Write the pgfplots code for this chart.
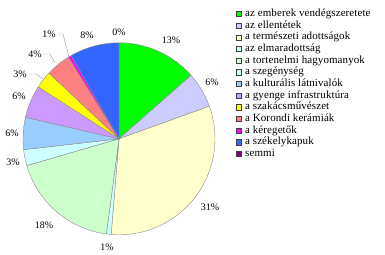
\documentclass[border=0pt]{standalone}
\usepackage{pgfplots}
\pgfplotsset{compat=1.18}
\usepackage{fontspec}
\setmainfont{Liberation Serif}
\definecolor{cA}{HTML}{00FF00}
\definecolor{cB}{HTML}{CCCCFF}
\definecolor{cC}{HTML}{FFFFCC}
\definecolor{cD}{HTML}{CCFFFF}
\definecolor{cE}{HTML}{CCFFCC}
\definecolor{cF}{HTML}{CCFFFF}
\definecolor{cG}{HTML}{99CCFF}
\definecolor{cH}{HTML}{CC99FF}
\definecolor{cI}{HTML}{FFFF00}
\definecolor{cJ}{HTML}{FF8080}
\definecolor{cK}{HTML}{FF00FF}
\definecolor{cL}{HTML}{3366FF}
\definecolor{cM}{HTML}{800080}
\begin{document}
\begin{tikzpicture}
\begin{axis}[
  width=385bp, height=255bp, scale only axis,
  xmin=0, xmax=385, ymin=0, ymax=255,
  hide axis, clip=false,
  legend cell align=left,
  legend style={at={(axis cs:235.5,246)}, anchor=north west, draw=none, fill=none,
    font=\fontsize{11}{11}\selectfont\addfontfeatures{LetterSpace=1}, row sep=2.2pt, inner sep=0pt,
    column sep=4pt,
    nodes={inner sep=0pt, text height=7.5pt, text depth=2pt}},
  legend image code/.code={\draw[#1,draw=black!75,line width=0.3pt] (-2.6pt,-2.6pt) rectangle (2.6pt,2.6pt);},
]
\path (axis cs:0,0) rectangle (axis cs:385,255);
\def\cum{0}
\foreach \v/\c/\name in {
  13.5/cA/{az emberek vendégszeretete},
  6.0/cB/{az ellentétek},
  31.8/cC/{a természeti adottságok},
  0.8/cD/{az elmaradottság},
  18.4/cE/{a tortenelmi hagyomanyok},
  2.7/cF/{a szegénység},
  5.4/cG/{a kulturális látnivalók},
  5.5/cH/{a gyenge infrastruktúra},
  2.9/cI/{a szakácsművészet},
  4.2/cJ/{a Korondi kerámiák},
  0.5/cK/{a kéregetők},
  8.3/cL/{a székelykapuk}} {
  \pgfmathsetmacro\a{\cum*3.6}
  \pgfmathsetmacro\b{(\cum+\v)*3.6}
  \pgfmathsetmacro\nc{\cum+\v}
  \xdef\cum{\nc}
  \edef\tmp{\noexpand\addplot[fill=\c, draw=black!45, line width=0.4pt, domain=\a:\b, samples=40]
    ({119+96*sin(x)},{116.2+96*cos(x)}) -- (axis cs:119,116.2) -- cycle;
    \noexpand\addlegendentry{\name}}
  \tmp
}
\addlegendimage{fill=cM}
\addlegendentry{semmi}
\begin{scope}[font=\fontsize{10}{12}\selectfont]
\node at (axis cs:119,223) {0\%};
\node at (axis cs:171,215) {13\%};
\node at (axis cs:212,173) {6\%};
\node at (axis cs:210,48) {31\%};
\node at (axis cs:107,8) {1\%};
\node at (axis cs:44,30) {18\%};
\node at (axis cs:13,93) {3\%};
\node at (axis cs:12,122) {6\%};
\node at (axis cs:19,159) {6\%};
\node at (axis cs:87,220) {8\%};
\node at (axis cs:20,181) {3\%};
\node at (axis cs:35,201) {4\%};
\node at (axis cs:49,221) {1\%};
\end{scope}
\draw[black!40, line width=0.4pt] (axis cs:29,181) -- (axis cs:36,181) -- (axis cs:43,176);
\draw[black!40, line width=0.4pt] (axis cs:44,201) -- (axis cs:50,201) -- (axis cs:55,192);
\draw[black!40, line width=0.4pt] (axis cs:58,221) -- (axis cs:63,221) -- (axis cs:69,198);
\end{axis}
\end{tikzpicture}
\end{document}
